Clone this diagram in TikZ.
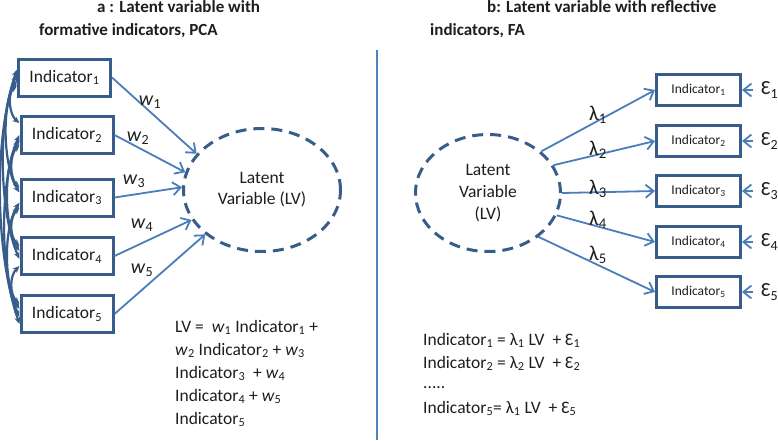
\documentclass[tikz,border=0pt]{standalone}
\usepackage{fontspec}
\setmainfont{Carlito}
\usetikzlibrary{arrows.meta,shapes.geometric,calc}
\definecolor{boxblue}{RGB}{56,93,138}
\definecolor{arrblue}{RGB}{74,126,187}
\definecolor{divblue}{RGB}{79,129,189}
\definecolor{txt}{RGB}{30,30,30}
\begin{document}
\begin{tikzpicture}[x=1pt,y=-1pt,
  font=\fontsize{17.5}{20}\selectfont, text=txt,
  ibox/.style={draw=boxblue,line width=3pt,minimum width=92pt,minimum height=37pt,inner sep=0pt},
  rbox/.style={draw=boxblue,line width=3pt,minimum width=84pt,minimum height=31pt,inner sep=0pt,font=\fontsize{13.5}{15}\selectfont},
  lv/.style={ellipse,draw=boxblue,line width=3pt,dash pattern=on 11pt off 7pt,inner sep=0pt,align=center},
  arr/.style={draw=arrblue,line width=1.8pt,-{Straight Barb[length=8pt,width=13pt]}},
  corr/.style={draw=boxblue,line width=2.2pt,{Stealth[length=7pt,width=6pt]}-{Stealth[length=7pt,width=6pt]}},
  divider/.style={draw=divblue,line width=2pt},
  title/.style={font=\fontsize{17}{20}\selectfont\bfseries,anchor=base west,inner sep=0pt},
  eq/.style={anchor=base west,inner sep=0pt},
  wl/.style={font=\fontsize{20}{22}\selectfont},
  ll/.style={font=\fontsize{21}{22}\selectfont},
  epsl/.style={anchor=west,inner xsep=8pt,inner ysep=0pt,font=\fontsize{20}{22}\selectfont},
]
\fill[white] (0,0) rectangle (778,440);
\useasboundingbox (0,0) rectangle (778,440);

% titles
\node[title] (ta1) at (97,12) {a : Latent variable with};
\node[title] (ta2) at (39,35) {formative indicators, PCA};
\node[title] (tb1) at (487,12) {b: Latent variable with reflective};
\node[title] (tb2) at (430,35) {indicators, FA};

% divider
\coordinate (dtop) at (377,50);
\coordinate (dbot) at (377,440);
\draw[divider] (dtop) -- (dbot);

% ---------- panel a ----------
\node[ibox] (b1) at (64.5,77.5) {Indicator\textsubscript{1}};
\node[ibox] (b2) at (67,135) {Indicator\textsubscript{2}};
\node[ibox] (b3) at (67,197.5) {Indicator\textsubscript{3}};
\node[ibox] (b4) at (67,256) {Indicator\textsubscript{4}};
\node[ibox] (b5) at (67,314) {Indicator\textsubscript{5}};

\node[lv,minimum width=157pt,minimum height=123pt,font=\fontsize{17.5}{21}\selectfont] (lv1) at (262,190) {Latent\\Variable (LV)};

\draw[arr] (b1.east) -- (lv1.151);
\draw[arr] (b2.east) -- (lv1.167);
\draw[arr] (b3.east) -- (lv1.178);
\draw[arr] (b4.east) -- (lv1.203);
\draw[arr] (b5.east) -- (lv1.218);

\node[wl] (w1) at (150,102) {\textit{w}\textsubscript{1}};
\node[wl] (w2) at (138,138) {\textit{w}\textsubscript{2}};
\node[wl] (w3) at (134,181) {\textit{w}\textsubscript{3}};
\node[wl] (w4) at (142,225) {\textit{w}\textsubscript{4}};
\node[wl] (w5) at (142,270) {\textit{w}\textsubscript{5}};

% correlations
\draw[corr] ($(b1.west)+(0,8)$) .. controls +(-10,8) and +(-10,-8) .. ($(b2.west)+(0,-12)$);
\draw[corr] ($(b2.west)+(0,10)$) .. controls +(-10,10) and +(-10,-10) .. ($(b3.west)+(0,-10)$);
\draw[corr] ($(b3.west)+(0,10)$) .. controls +(-10,10) and +(-10,-10) .. ($(b4.west)+(0,-10)$);
\draw[corr] ($(b4.west)+(0,10)$) .. controls +(-10,10) and +(-10,-10) .. ($(b5.west)+(0,-10)$);
\draw[corr] ($(b1.west)+(0,3)$) .. controls +(-16,25) and +(-16,-25) .. ($(b3.west)+(0,-5)$);
\draw[corr] ($(b2.west)+(0,5)$) .. controls +(-16,25) and +(-16,-25) .. ($(b4.west)+(0,-5)$);
\draw[corr] ($(b3.west)+(0,5)$) .. controls +(-16,25) and +(-16,-25) .. ($(b5.west)+(0,-5)$);
\draw[corr] ($(b1.west)+(0,-3)$) .. controls +(-20,45) and +(-20,-45) .. ($(b4.west)+(0,3)$);
\draw[corr] ($(b2.west)+(0,0)$) .. controls +(-20,45) and +(-20,-45) .. ($(b5.west)+(0,3)$);
\draw[corr] ($(b1.west)+(0,-8)$) .. controls +(-24,70) and +(-24,-70) .. ($(b5.west)+(0,10)$);

% equation a
\node[eq] (la1) at (175,332) {LV =\ \ \textit{w}\textsubscript{1} Indicator\textsubscript{1} +};
\node[eq] (la2) at (175,355) {\textit{w}\textsubscript{2} Indicator\textsubscript{2} + \textit{w}\textsubscript{3}};
\node[eq] (la3) at (175,378) {Indicator\textsubscript{3}\ \ + \textit{w}\textsubscript{4}};
\node[eq] (la4) at (175,401) {Indicator\textsubscript{4} + \textit{w}\textsubscript{5}};
\node[eq] (la5) at (175,424) {Indicator\textsubscript{5}};

% ---------- panel b ----------
\node[lv,minimum width=145pt,minimum height=117pt,font=\fontsize{17.5}{22}\selectfont] (lv2) at (488,193) {Latent\\Variable\\(LV)};

\node[rbox] (r1) at (698.5,90) {Indicator\textsubscript{1}};
\node[rbox] (r2) at (698.5,141) {Indicator\textsubscript{2}};
\node[rbox] (r3) at (698.5,191) {Indicator\textsubscript{3}};
\node[rbox] (r4) at (698.5,242) {Indicator\textsubscript{4}};
\node[rbox] (r5) at (698.5,292) {Indicator\textsubscript{5}};

\draw[arr] (lv2.38) -- (r1.west);
\draw[arr] (lv2.23) -- (r2.west);
\draw[arr] (lv2.0) -- (r3.west);
\draw[arr] (lv2.-18) -- (r4.west);
\draw[arr] (lv2.-41) -- (r5.west);

\node[ll] (l1) at (598,115) {λ\textsubscript{1}};
\node[ll] (l2) at (598,150) {λ\textsubscript{2}};
\node[ll] (l3) at (598,189) {λ\textsubscript{3}};
\node[ll] (l4) at (598,220) {λ\textsubscript{4}};
\node[ll] (l5) at (598,255) {λ\textsubscript{5}};

\node[epsl] (e1) at (753,90) {Ɛ\textsubscript{1}};
\node[epsl] (e2) at (753,141) {Ɛ\textsubscript{2}};
\node[epsl] (e3) at (753,191) {Ɛ\textsubscript{3}};
\node[epsl] (e4) at (753,242) {Ɛ\textsubscript{4}};
\node[epsl] (e5) at (753,292) {Ɛ\textsubscript{5}};
\draw[arr] (e1.west) -- (r1.east);
\draw[arr] (e2.west) -- (r2.east);
\draw[arr] (e3.west) -- (r3.east);
\draw[arr] (e4.west) -- (r4.east);
\draw[arr] (e5.west) -- (r5.east);

% equation b
\node[eq] (rb1) at (423,345) {Indicator\textsubscript{1} = λ\textsubscript{1} LV\ \ + Ɛ\textsubscript{1}};
\node[eq] (rb2) at (423,368) {Indicator\textsubscript{2} = λ\textsubscript{2} LV\ \ + Ɛ\textsubscript{2}};
\node[eq] (rb3) at (423,388) {.....};
\node[eq] (rb4) at (423,413) {Indicator\textsubscript{5}= λ\textsubscript{1} LV\ \ + Ɛ\textsubscript{5}};
\end{tikzpicture}
\end{document}
